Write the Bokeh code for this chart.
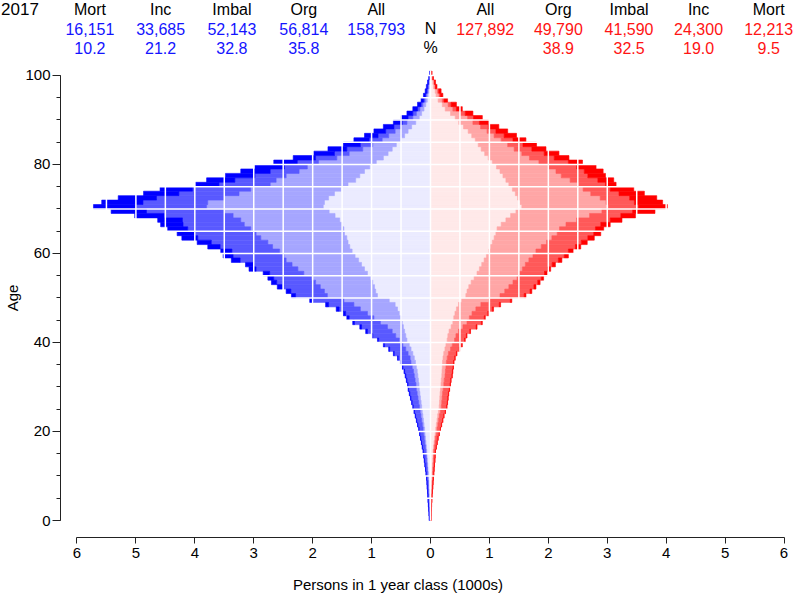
import numpy as np
from bokeh.plotting import figure
from bokeh.models import LinearAxis, FixedTicker, Range1d, ColumnDataSource
from bokeh.core.properties import value
from bokeh.embed import file_html
from bokeh.resources import INLINE

# ---------------- data (thousands of persons per 1-year age class) ----------------
ages = list(range(0, 101))

men_org = [0.010, 0.013, 0.015, 0.018, 0.020, 0.023, 0.025, 0.028, 0.030, 0.034,
           0.038, 0.043, 0.048, 0.053, 0.058, 0.063, 0.070, 0.078, 0.085, 0.093,
           0.100, 0.110, 0.120, 0.130, 0.140, 0.150, 0.160, 0.170, 0.180, 0.190,
           0.195, 0.205, 0.215, 0.225, 0.240, 0.255, 0.275, 0.300, 0.330, 0.360,
           0.400, 0.420, 0.440, 0.460, 0.480, 0.500, 0.530, 0.560, 0.600, 0.700,
           0.900, 0.930, 0.950, 0.980, 1.020, 1.070, 1.120, 1.170, 1.220, 1.280,
           1.330, 1.370, 1.400, 1.420, 1.460, 1.470, 1.500, 1.540, 1.620, 1.720,
           1.820, 1.800, 1.730, 1.630, 1.520, 1.400, 1.270, 1.200, 1.120, 1.030,
           0.920, 0.800, 0.720, 0.650, 0.580, 0.500, 0.440, 0.380, 0.320, 0.250,
           0.190, 0.150, 0.110, 0.080, 0.055, 0.040, 0.028, 0.020, 0.015, 0.008,
           0.004]
men_imbal = [0.002, 0.003, 0.004, 0.004, 0.005, 0.005, 0.006, 0.007, 0.007, 0.008,
             0.009, 0.010, 0.011, 0.013, 0.014, 0.015, 0.017, 0.019, 0.021, 0.023,
             0.025, 0.028, 0.030, 0.033, 0.035, 0.038, 0.040, 0.043, 0.046, 0.050,
             0.052, 0.056, 0.060, 0.064, 0.070, 0.077, 0.070, 0.080, 0.090, 0.110,
             0.130, 0.170, 0.210, 0.270, 0.370, 0.460, 0.540, 0.630, 0.700, 0.770,
             0.850, 0.870, 0.920, 0.970, 1.000, 1.080, 1.130, 1.180, 1.230, 1.210,
             1.230, 1.310, 1.360, 1.460, 1.500, 1.580, 1.660, 1.680, 1.730, 1.780,
             1.980, 1.980, 1.770, 1.620, 1.530, 1.320, 1.350, 1.250, 1.110, 1.060,
             0.980, 0.790, 0.660, 0.500, 0.400, 0.320, 0.270, 0.220, 0.180, 0.150,
             0.110, 0.090, 0.070, 0.050, 0.035, 0.025, 0.018, 0.012, 0.009, 0.005,
             0.002]
men_inc = [0.008, 0.009, 0.011, 0.013, 0.015, 0.017, 0.018, 0.019, 0.022, 0.024,
           0.027, 0.030, 0.034, 0.037, 0.041, 0.044, 0.050, 0.055, 0.060, 0.065,
           0.070, 0.077, 0.084, 0.091, 0.098, 0.105, 0.112, 0.119, 0.125, 0.131,
           0.133, 0.139, 0.144, 0.150, 0.158, 0.166, 0.202, 0.235, 0.273, 0.310,
           0.350, 0.390, 0.420, 0.440, 0.440, 0.420, 0.370, 0.360, 0.430, 0.520,
           0.540, 0.570, 0.650, 0.660, 0.640, 0.580, 0.710, 0.660, 0.780, 0.860,
           0.810, 0.890, 0.960, 1.070, 1.040, 1.070, 1.040, 0.990, 1.170, 1.320,
           1.200, 1.100, 1.150, 1.020, 0.990, 0.870, 0.700, 0.530, 0.490, 0.390,
           0.360, 0.360, 0.250, 0.270, 0.210, 0.220, 0.180, 0.160, 0.120, 0.080,
           0.080, 0.060, 0.040, 0.030, 0.025, 0.020, 0.016, 0.018, 0.011, 0.007,
           0.003]
men_mort = [0.000, 0.000, 0.000, 0.000, 0.000, 0.000, 0.001, 0.001, 0.001, 0.001,
            0.001, 0.002, 0.002, 0.002, 0.002, 0.003, 0.003, 0.003, 0.004, 0.004,
            0.005, 0.005, 0.006, 0.006, 0.007, 0.007, 0.008, 0.008, 0.009, 0.009,
            0.010, 0.010, 0.011, 0.011, 0.012, 0.012, 0.013, 0.015, 0.017, 0.020,
            0.020, 0.020, 0.030, 0.030, 0.030, 0.040, 0.040, 0.050, 0.050, 0.060,
            0.070, 0.080, 0.080, 0.090, 0.100, 0.110, 0.120, 0.130, 0.150, 0.170,
            0.190, 0.210, 0.240, 0.270, 0.300, 0.340, 0.380, 0.420, 0.500, 0.600,
            0.720, 0.700, 0.650, 0.600, 0.550, 0.400, 0.480, 0.500, 0.500, 0.500,
            0.400, 0.380, 0.350, 0.320, 0.290, 0.260, 0.230, 0.200, 0.180, 0.150,
            0.120, 0.100, 0.080, 0.060, 0.045, 0.035, 0.028, 0.020, 0.015, 0.010,
            0.006]

women_org = [0.006, 0.007, 0.009, 0.010, 0.012, 0.015, 0.018, 0.021, 0.024, 0.027,
             0.030, 0.033, 0.036, 0.040, 0.042, 0.045, 0.053, 0.061, 0.069, 0.080,
             0.090, 0.100, 0.111, 0.122, 0.135, 0.148, 0.153, 0.158, 0.163, 0.170,
             0.178, 0.183, 0.192, 0.196, 0.200, 0.204, 0.212, 0.225, 0.245, 0.262,
             0.283, 0.295, 0.315, 0.350, 0.380, 0.395, 0.415, 0.440, 0.475, 0.530,
             0.600, 0.620, 0.650, 0.690, 0.740, 0.790, 0.830, 0.870, 0.910, 0.950,
             0.990, 1.020, 1.050, 1.080, 1.110, 1.130, 1.200, 1.280, 1.360, 1.450,
             1.550, 1.520, 1.480, 1.440, 1.390, 1.330, 1.280, 1.230, 1.180, 1.120,
             1.050, 0.980, 0.920, 0.860, 0.810, 0.760, 0.700, 0.640, 0.560, 0.480,
             0.420, 0.340, 0.250, 0.200, 0.130, 0.095, 0.080, 0.050, 0.040, 0.023,
             0.012]
women_imbal = [0.001, 0.001, 0.002, 0.002, 0.003, 0.003, 0.004, 0.005, 0.005, 0.006,
               0.007, 0.008, 0.009, 0.010, 0.010, 0.011, 0.013, 0.015, 0.017, 0.020,
               0.022, 0.025, 0.027, 0.030, 0.033, 0.036, 0.038, 0.040, 0.042, 0.045,
               0.048, 0.050, 0.055, 0.058, 0.062, 0.066, 0.072, 0.080, 0.095, 0.108,
               0.125, 0.137, 0.160, 0.200, 0.240, 0.265, 0.290, 0.330, 0.380, 0.460,
               0.580, 0.640, 0.680, 0.710, 0.730, 0.720, 0.730, 0.740, 0.760, 0.790,
               0.800, 0.860, 0.920, 0.980, 1.040, 1.060, 1.100, 1.200, 1.340, 1.460,
               1.470, 1.460, 1.400, 1.280, 1.200, 1.180, 1.090, 0.990, 0.950, 0.880,
               0.790, 0.700, 0.630, 0.560, 0.500, 0.440, 0.380, 0.320, 0.290, 0.240,
               0.210, 0.170, 0.130, 0.100, 0.070, 0.050, 0.040, 0.025, 0.020, 0.012,
               0.006]
women_inc = [0.003, 0.004, 0.004, 0.006, 0.007, 0.009, 0.010, 0.012, 0.014, 0.016,
             0.018, 0.020, 0.022, 0.024, 0.026, 0.027, 0.032, 0.037, 0.041, 0.047,
             0.055, 0.061, 0.068, 0.074, 0.082, 0.091, 0.094, 0.096, 0.099, 0.104,
             0.107, 0.110, 0.116, 0.118, 0.120, 0.122, 0.127, 0.135, 0.150, 0.159,
             0.170, 0.176, 0.192, 0.225, 0.244, 0.253, 0.267, 0.280, 0.313, 0.365,
             0.410, 0.430, 0.425, 0.420, 0.410, 0.425, 0.430, 0.455, 0.500, 0.530,
             0.550, 0.580, 0.590, 0.610, 0.620, 0.610, 0.590, 0.570, 0.530, 0.520,
             0.510, 0.480, 0.500, 0.480, 0.460, 0.460, 0.470, 0.450, 0.480, 0.480,
             0.500, 0.420, 0.380, 0.300, 0.260, 0.200, 0.170, 0.150, 0.130, 0.110,
             0.100, 0.080, 0.060, 0.050, 0.030, 0.020, 0.020, 0.010, 0.008, 0.005,
             0.002]
women_mort = [0.000, 0.000, 0.000, 0.000, 0.000, 0.000, 0.000, 0.000, 0.001, 0.001,
              0.001, 0.001, 0.001, 0.001, 0.002, 0.002, 0.002, 0.002, 0.003, 0.003,
              0.003, 0.004, 0.004, 0.004, 0.005, 0.005, 0.005, 0.006, 0.006, 0.006,
              0.007, 0.007, 0.007, 0.008, 0.008, 0.008, 0.009, 0.010, 0.010, 0.011,
              0.012, 0.012, 0.013, 0.015, 0.016, 0.017, 0.018, 0.020, 0.022, 0.025,
              0.030, 0.030, 0.035, 0.040, 0.040, 0.045, 0.050, 0.055, 0.060, 0.070,
              0.080, 0.090, 0.100, 0.110, 0.120, 0.140, 0.160, 0.200, 0.250, 0.380,
              0.490, 0.480, 0.460, 0.430, 0.400, 0.180, 0.270, 0.300, 0.320, 0.330,
              0.240, 0.250, 0.250, 0.240, 0.230, 0.220, 0.210, 0.200, 0.180, 0.160,
              0.150, 0.130, 0.100, 0.090, 0.060, 0.045, 0.040, 0.025, 0.017, 0.010,
              0.005]

year_label = "2017"
men_headers = ["Mort", "Inc", "Imbal", "Org", "All"]
men_n = [16151, 33685, 52143, 56814, 158793]
men_pct = [10.2, 21.2, 32.8, 35.8]
women_headers = ["All", "Org", "Imbal", "Inc", "Mort"]
women_n = [127892, 49790, 41590, 24300, 12213]
women_pct = [38.9, 32.5, 19.0, 9.5]
x_ticks = [-6, -5, -4, -3, -2, -1, 0, 1, 2, 3, 4, 5, 6]
y_ticks = [0, 20, 40, 60, 80, 100]
y_minor = list(range(0, 101, 5))

# ---------------- style ----------------
FONT = "Liberation Sans"
FS = "16px"
men_colors = ["#ebebff", "#a6a6ff", "#5959ff", "#0000ff"]
women_colors = ["#ffe9e9", "#ffa6a6", "#ff5959", "#ff0000"]
BLUE_TXT = "#1414ff"
RED_TXT = "#ff1414"

# frame spans the full canvas width; the y axis is pinned at a fixed x location
X0, X1 = -7.298, 6.195
AXIS_X = -6.280
p = figure(width=795, height=595,
           x_range=Range1d(X0, X1), y_range=Range1d(-3.82, 116.85),
           output_backend="svg", toolbar_location=None,
           x_axis_type=None, y_axis_type=None,
           min_border_left=0, min_border_right=0, min_border_top=0, min_border_bottom=58)
p.outline_line_color = None
p.background_fill_color = "white"
p.border_fill_color = "white"

yc = np.array(ages) + 0.5
for layers, colors, sign in ((np.array([men_org, men_imbal, men_inc, men_mort]), men_colors, -1),
                             (np.array([women_org, women_imbal, women_inc, women_mort]), women_colors, 1)):
    outer = np.cumsum(layers, axis=0)
    inner = outer - layers
    for k in range(4):
        a = sign * inner[k]
        b = sign * outer[k]
        src = ColumnDataSource(dict(y=yc, left=np.minimum(a, b), right=np.maximum(a, b)))
        p.hbar(y="y", height=1.0, left="left", right="right", source=src,
               fill_color=colors[k], line_color=colors[k], line_width=0.6)

# white grid drawn over the bars
gx = np.arange(-6, 6.01, 0.5)
p.segment(x0=gx, y0=0, x1=gx, y1=101, line_color="white", line_width=1.5)
gy = np.arange(5, 101, 5)
p.segment(x0=-6.1, y0=gy, x1=6.1, y1=gy, line_color="white", line_width=1.5)

# axes
yax = LinearAxis(ticker=FixedTicker(ticks=y_ticks, minor_ticks=y_minor), bounds=(0, 100),
                 axis_label="Age", fixed_location=AXIS_X)
yax.major_tick_out = 8
yax.major_tick_in = 0
yax.minor_tick_out = 4
yax.minor_tick_in = 0
yax.major_label_standoff = 2
yax.axis_label_standoff = 1
yax.major_label_text_font = FONT
yax.major_label_text_font_size = "15px"
yax.major_label_text_color = "black"
yax.axis_label_text_font = FONT
yax.axis_label_text_font_size = "15px"
yax.axis_label_text_font_style = "normal"
yax.axis_label_text_color = "black"
yax.axis_line_color = "#222222"
yax.major_tick_line_color = "#222222"
yax.minor_tick_line_color = "#222222"
p.add_layout(yax, "left")

xax = LinearAxis(ticker=FixedTicker(ticks=x_ticks), bounds=(-6, 6),
                 axis_label="Persons in 1 year class (1000s)")
xax.major_label_overrides = {t: str(abs(t)) for t in x_ticks}
xax.major_tick_out = 6
xax.major_tick_in = 0
xax.minor_tick_out = 0
xax.minor_tick_in = 0
xax.major_label_standoff = 4
xax.axis_label_standoff = 15
xax.major_label_text_font = FONT
xax.major_label_text_font_size = "15px"
xax.major_label_text_color = "black"
xax.axis_label_text_font = FONT
xax.axis_label_text_font_size = "15px"
xax.axis_label_text_font_style = "normal"
xax.axis_label_text_color = "black"
xax.axis_line_color = "#222222"
xax.major_tick_line_color = "#222222"
p.add_layout(xax, "below")

# header table
col_left = [-5.78, -4.58, -3.37, -2.15, -0.92]
col_right = [0.93, 2.17, 3.37, 4.55, 5.74]
row1, row2, row3 = 114.83, 110.45, 106.18

def put(xs, ys, texts, color, size=FS, align="center"):
    src = ColumnDataSource(dict(x=xs, y=ys, t=texts))
    p.text(x="x", y="y", text="t", source=src, text_font=value(FONT), text_font_size=value(size),
           text_color=color, text_align=align, text_baseline="alphabetic")

put(col_left, [row1] * 5, men_headers, "black")
put(col_right, [row1] * 5, women_headers, "black")
put(col_left, [row2] * 5, [f"{n:,}" for n in men_n], BLUE_TXT)
put(col_left[:4], [row3] * 4, [f"{v:.1f}" for v in men_pct], BLUE_TXT)
put(col_right, [row2] * 5, [f"{n:,}" for n in women_n], RED_TXT)
put(col_right[1:], [row3] * 4, [f"{v:.1f}" for v in women_pct], RED_TXT)
put([0.0, 0.0], [row2, row3], ["N", "%"], "black")
put([X0 + 0.01], [row1], [year_label], "black", size="17px", align="left")

open("out.html", "w").write(file_html(p, INLINE))
